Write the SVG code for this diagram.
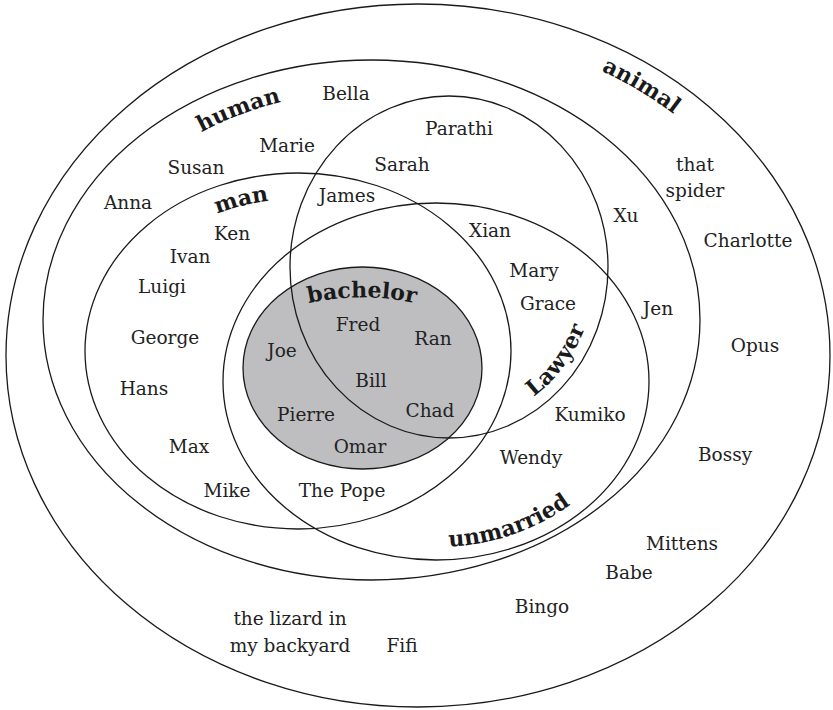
<svg xmlns="http://www.w3.org/2000/svg" xmlns:xlink="http://www.w3.org/1999/xlink" width="833" height="710" viewBox="0 0 833 710">
<style>
.set{fill:none;stroke:#1a1a1a;stroke-width:1.3}
.t{font-family:"DejaVu Serif","Liberation Serif",serif;font-size:18.5px;fill:#222;text-anchor:middle}
.lb{font-family:"DejaVu Serif","Liberation Serif",serif;font-size:22px;font-weight:bold;fill:#1a1a1a;text-anchor:middle}
</style>
<defs>
<path id="p-human" d="M 120.7 197 A 298 229 0 0 1 384.5 91.2"/>
<path id="p-man" d="M 159 249 A 187 151 0 0 1 336.9 202.3"/>
<path id="p-animal" d="M 489.7 37 A 386 325 0 0 1 753.6 198.4"/>
<path id="p-lawyer" d="M 501.7 415.4 A 147 159 0 0 0 594.2 291.9"/>
<path id="p-unmarried" d="M 380.6 540.6 A 201 166 0 0 0 616.7 453.8"/>
<path id="p-bachelor" d="M 290 308 A 250 250 0 0 1 434 308"/>
</defs>
<rect width="833" height="710" fill="#fff"/>

<g id="animal">
<ellipse class="set" cx="418" cy="355.5" rx="412" ry="351.5"/>
<text class="lb"><textPath xlink:href="#p-animal" href="#p-animal" startOffset="50%">animal</textPath></text>
<text class="t" x="695" y="171">that</text>
<text class="t" x="695" y="197">spider</text>
<text class="t" x="748" y="247">Charlotte</text>
<text class="t" x="755" y="352">Opus</text>
<text class="t" x="725" y="461">Bossy</text>
<text class="t" x="682" y="550">Mittens</text>
<text class="t" x="629" y="579">Babe</text>
<text class="t" x="542" y="613">Bingo</text>
<text class="t" x="290" y="625">the lizard in</text>
<text class="t" x="290" y="652">my backyard</text>
<text class="t" x="402" y="652">Fifi</text>
</g>

<g id="human">
<ellipse class="set" cx="371.5" cy="320" rx="328.5" ry="260"/>
<text class="lb"><textPath xlink:href="#p-human" href="#p-human" startOffset="50%">human</textPath></text>
<text class="t" x="346" y="100">Bella</text>
<text class="t" x="287" y="152">Marie</text>
<text class="t" x="196" y="174">Susan</text>
<text class="t" x="128" y="209">Anna</text>
<text class="t" x="658" y="315">Jen</text>
</g>

<g id="man">
<ellipse class="set" cx="298" cy="351" rx="213" ry="178"/>
<text class="lb"><textPath xlink:href="#p-man" href="#p-man" startOffset="50%">man</textPath></text>
<text class="t" x="232" y="240">Ken</text>
<text class="t" x="190" y="263">Ivan</text>
<text class="t" x="162" y="293">Luigi</text>
<text class="t" x="165" y="344">George</text>
<text class="t" x="144" y="395">Hans</text>
<text class="t" x="189" y="453">Max</text>
<text class="t" x="227" y="497">Mike</text>
<text class="t" x="342" y="497">The Pope</text>
</g>

<g id="unmarried">
<ellipse class="set" cx="436" cy="381.5" rx="213" ry="178.5"/>
<text class="lb"><textPath xlink:href="#p-unmarried" href="#p-unmarried" startOffset="50%">unmarried</textPath></text>
<text class="t" x="490" y="237">Xian</text>
<text class="t" x="534" y="277">Mary</text>
<text class="t" x="548" y="310">Grace</text>
<text class="t" x="590" y="421">Kumiko</text>
<text class="t" x="531" y="464">Wendy</text>
</g>

<g id="bachelor">
<ellipse cx="362.5" cy="368" rx="119.5" ry="101" fill="#bebec1" stroke="#1a1a1a" stroke-width="1.3"/>
<text class="lb"><textPath xlink:href="#p-bachelor" href="#p-bachelor" startOffset="50%">bachelor</textPath></text>
<text class="t" x="358" y="331">Fred</text>
<text class="t" x="433" y="345">Ran</text>
<text class="t" x="282" y="357">Joe</text>
<text class="t" x="371" y="387">Bill</text>
<text class="t" x="306" y="421">Pierre</text>
<text class="t" x="430" y="417">Chad</text>
<text class="t" x="360" y="453">Omar</text>
</g>

<g id="lawyer">
<ellipse class="set" cx="449" cy="267" rx="159" ry="171"/>
<text class="lb"><textPath xlink:href="#p-lawyer" href="#p-lawyer" startOffset="50%">Lawyer</textPath></text>
<text class="t" x="459" y="135">Parathi</text>
<text class="t" x="402" y="171">Sarah</text>
<text class="t" x="347" y="202">James</text>
<text class="t" x="626" y="222">Xu</text>
</g>

<g id="connectors"></g>
</svg>
